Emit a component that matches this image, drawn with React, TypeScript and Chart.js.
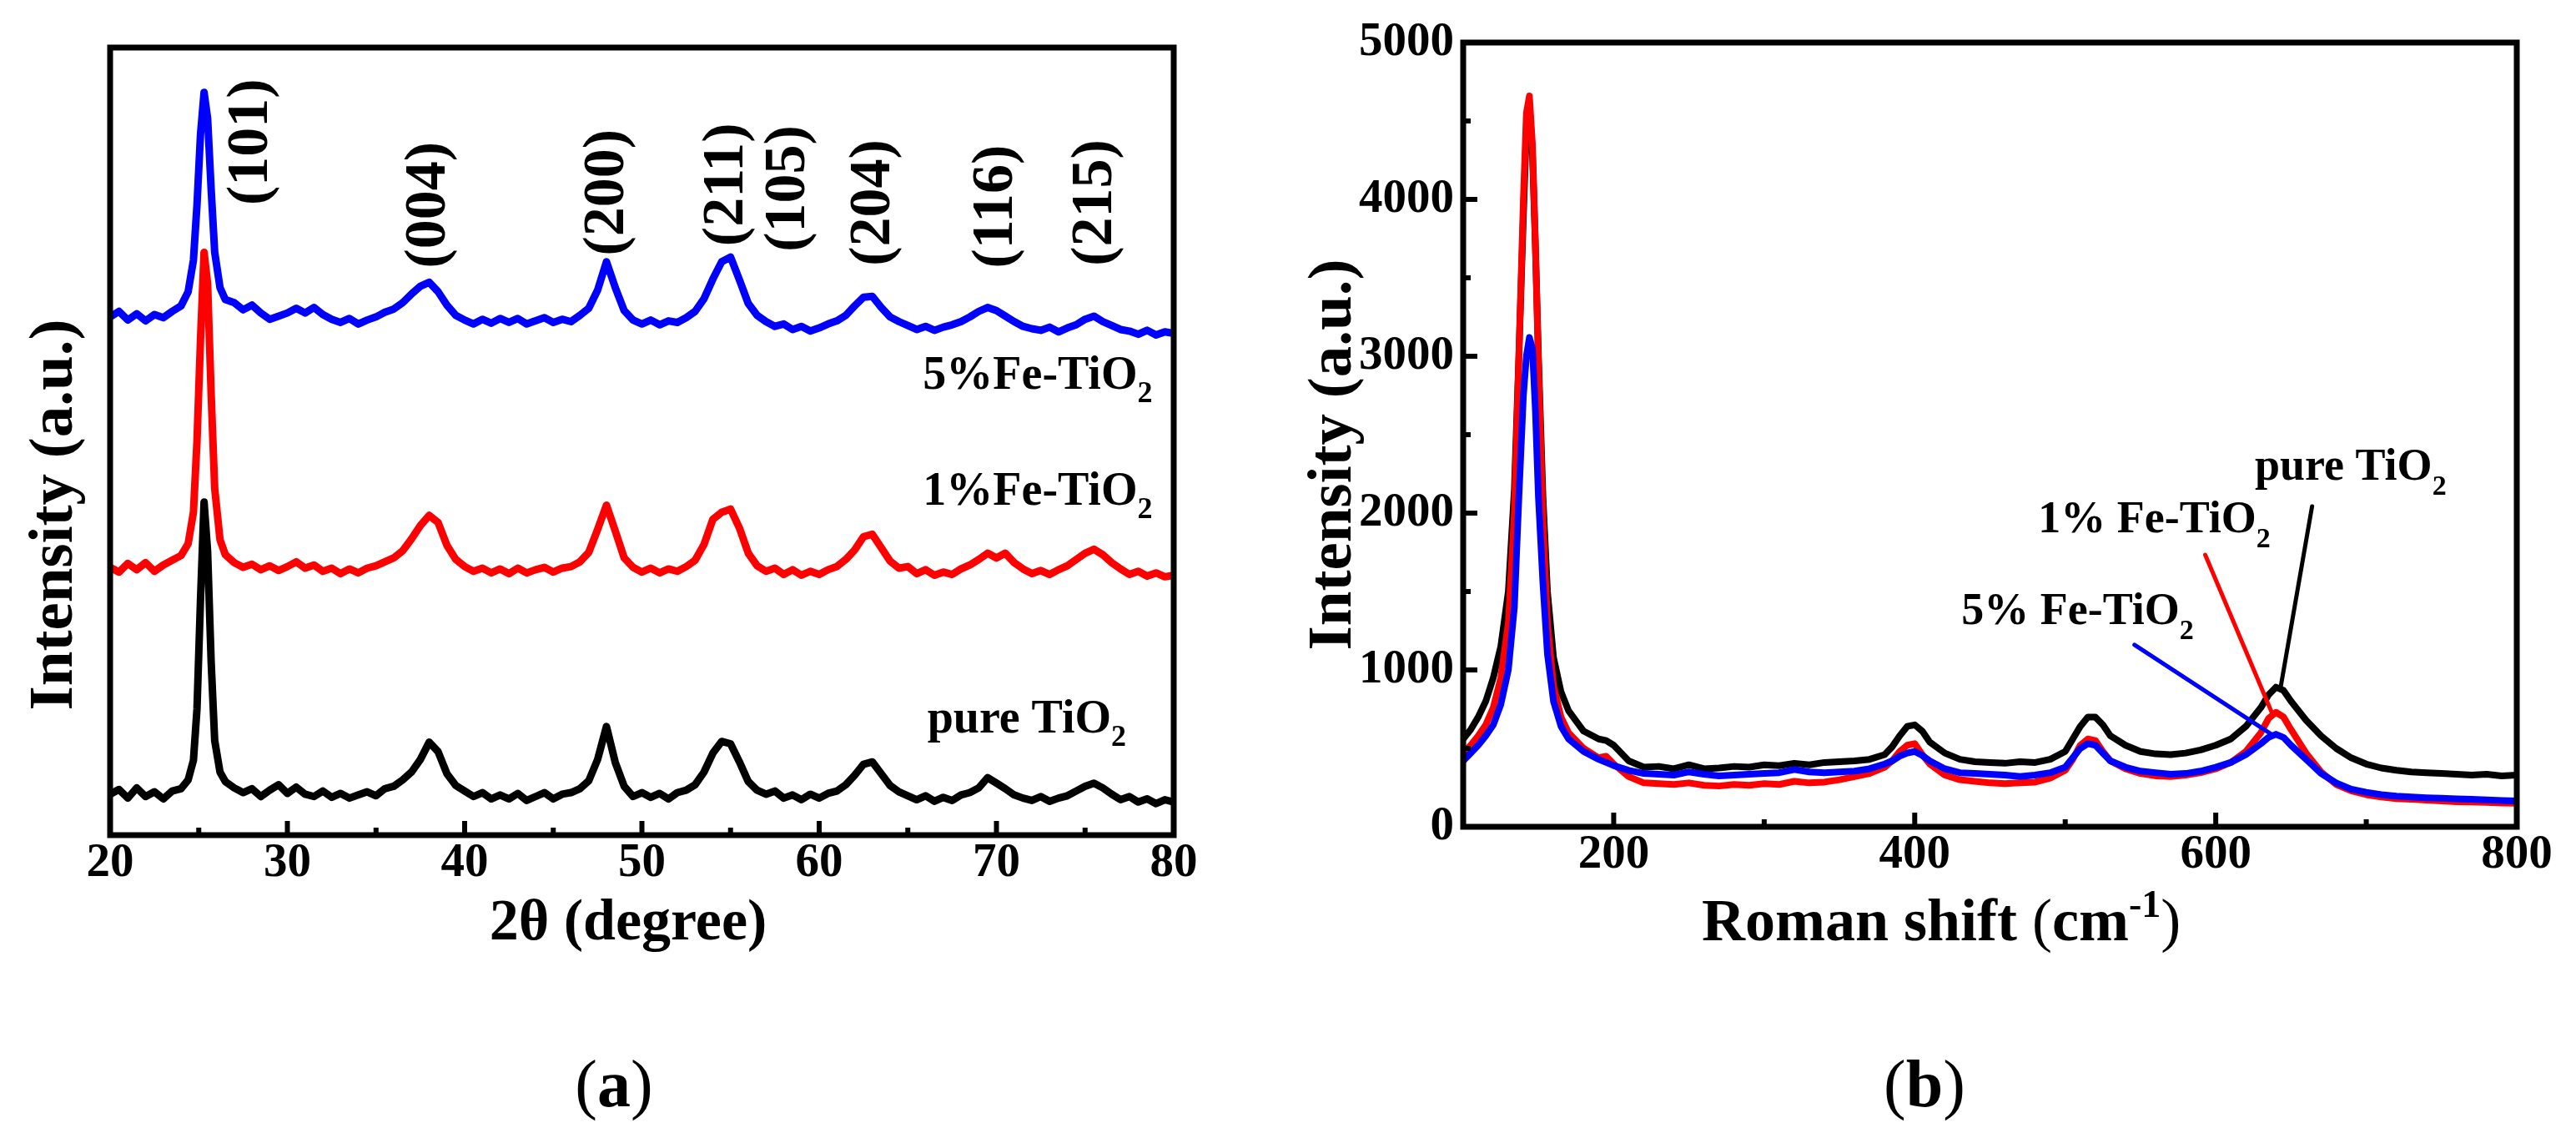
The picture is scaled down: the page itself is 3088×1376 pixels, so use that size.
import React, { useEffect, useRef } from "react";
import { Chart, registerables, ChartConfiguration, Plugin } from "chart.js";

Chart.register(...registerables);

const SERIF = '"Liberation Serif", "Times New Roman", serif';
const font = (size: number, bold = true) => `${bold ? "bold " : ""}${size}px ${SERIF}`;

// ---------- (a) XRD patterns ----------
const TWO_THETA = [
  20, 20.5, 21, 21.5, 22, 22.5, 23, 23.5, 24, 24.4,
  24.7, 24.9, 25.1, 25.3, 25.5, 25.7, 25.9, 26.2, 26.5, 27,
  27.5, 28, 28.5, 29, 29.5, 30, 30.5, 31, 31.5, 32,
  32.5, 33, 33.5, 34, 34.5, 35, 35.5, 36, 36.5, 37,
  37.5, 38, 38.5, 39, 39.5, 40, 40.5, 41, 41.5, 42,
  42.5, 43, 43.5, 44, 44.5, 45, 45.5, 46, 46.5, 47,
  47.5, 48, 48.5, 49, 49.5, 50, 50.5, 51, 51.5, 52,
  52.5, 53, 53.5, 54, 54.5, 55, 55.5, 56, 56.5, 57,
  57.5, 58, 58.5, 59, 59.5, 60, 60.5, 61, 61.5, 62,
  62.5, 63, 63.5, 64, 64.5, 65, 65.5, 66, 66.5, 67,
  67.5, 68, 68.5, 69, 69.5, 70, 70.5, 71, 71.5, 72,
  72.5, 73, 73.5, 74, 74.5, 75, 75.5, 76, 76.5, 77,
  77.5, 78, 78.5, 79, 79.5, 80,
];
const XRD_PURE = [
  5.2, 5.8, 4.7, 6.0, 4.9, 5.5, 4.6, 5.6, 5.9, 7.0,
  9.5, 16.0, 30.0, 42.3, 36.0, 22.0, 12.0, 8.0, 6.8, 6.0,
  5.4, 5.9, 4.9, 5.7, 6.4, 5.3, 6.1, 5.2, 4.9, 5.6,
  4.8, 5.3, 4.7, 5.1, 5.5, 5.0, 5.9, 6.2, 7.0, 8.0,
  9.6, 11.8, 10.6, 7.8, 6.3, 5.6, 4.9, 5.4, 4.6, 5.1,
  4.6, 5.3, 4.4, 4.9, 5.4, 4.6, 5.2, 5.4, 5.9, 6.9,
  9.6, 13.8, 9.2, 6.2, 4.9, 5.4, 4.8, 5.3, 4.6, 5.4,
  5.7, 6.4, 8.0, 10.4, 11.9, 11.6, 9.3, 6.8, 5.7, 5.2,
  5.6, 4.7, 5.1, 4.5, 5.2, 4.7, 5.3, 5.6, 6.4, 7.6,
  9.0, 9.3, 7.8, 6.3, 5.5, 5.0, 4.5, 5.0, 4.3, 4.8,
  4.4, 5.1, 5.4, 6.0, 7.3, 6.6, 5.9, 5.1, 4.7, 4.4,
  4.9, 4.3, 4.7, 5.0, 5.6, 6.2, 6.6, 6.0, 5.2, 4.5,
  4.9, 4.2, 4.6, 4.0, 4.5, 4.2,
];
const XRD_FE1 = [
  34.0, 33.4, 34.5, 33.7, 34.6, 33.5, 34.3, 34.9, 35.5, 37.0,
  41.0, 50.0, 63.0, 74.0, 70.0, 56.0, 44.0, 37.5, 35.6, 34.6,
  34.0, 34.4, 33.7, 34.2, 33.6, 34.1, 34.7, 33.9, 34.3, 33.5,
  33.9, 33.2, 33.8, 33.3, 33.9, 34.2, 34.7, 35.2, 36.1, 37.6,
  39.3, 40.6, 39.7, 36.8, 35.0, 34.1, 33.5, 33.9, 33.3, 33.8,
  33.2, 33.9, 33.3, 33.7, 34.0, 33.4, 33.9, 34.1, 34.7, 35.9,
  38.8, 41.9, 38.6, 35.2, 34.0, 33.4, 33.9, 33.3, 33.8, 33.5,
  34.1, 34.9, 36.9, 40.1, 41.0, 41.4, 39.0, 35.8, 34.2, 33.5,
  33.9, 33.1, 33.7, 33.0, 33.5, 33.1, 33.7, 34.1, 35.0, 36.2,
  37.9, 38.2, 36.5, 34.8, 33.9, 34.1, 33.2, 33.7, 33.0, 33.4,
  33.1, 33.8, 34.3, 35.0, 35.8, 35.2, 35.8, 34.6, 33.8, 33.2,
  33.6, 33.1, 33.7, 34.2, 35.0, 35.8, 36.3, 35.6, 34.6, 33.8,
  33.1, 33.5, 32.9, 33.3, 32.8, 33.0,
];
const XRD_FE5 = [
  65.8, 66.5, 65.4, 66.2, 65.3, 66.1, 65.7, 66.5, 67.2, 69.0,
  73.0, 80.0, 89.0, 94.3, 91.0, 82.0, 74.0, 69.5, 68.0, 67.6,
  66.7, 67.3, 66.3, 65.5, 65.9, 66.3, 66.9, 66.3, 67.0, 66.1,
  65.5, 65.1, 65.6, 64.9, 65.4, 65.8, 66.4, 66.8, 67.6, 68.7,
  69.7, 70.2, 69.0, 67.3, 66.0, 65.4, 64.9, 65.5, 65.0, 65.6,
  65.1, 65.6, 64.9, 65.3, 65.7, 65.1, 65.5, 65.2, 66.0, 66.9,
  69.2, 72.8, 69.5, 66.6, 65.4, 64.9, 65.4, 64.8, 65.3, 65.1,
  65.7, 66.5, 68.1, 70.6, 72.8, 73.4, 70.5, 67.5, 66.0, 65.2,
  64.6, 64.9, 64.2, 64.6, 64.0, 64.4, 64.9, 65.3, 66.0, 67.2,
  68.3, 68.4, 67.0, 65.8, 65.2, 64.7, 64.2, 64.6, 64.1, 64.5,
  64.8, 65.2, 65.8, 66.5, 67.0, 66.6, 65.9, 65.2, 64.6, 64.3,
  64.1, 64.5, 63.9, 64.4, 64.8, 65.5, 65.9, 65.2, 64.7, 64.2,
  64.0, 63.6, 64.1, 63.5, 63.9, 63.7,
];
const XRD_X_LABELS = [20, 30, 40, 50, 60, 70, 80];
const XRD_X_MINOR = [25, 35, 45, 55, 65, 75];
const MILLER = ["(101)", "(004)", "(200)", "(211)", "(105)", "(204)", "(116)", "(215)"];
const MILLER_AT = [28.0, 38.0, 48.1, 54.8, 58.3, 63.1, 70.0, 75.6];
const MILLER_LEVEL = [88.0, 80.0, 81.6, 82.6, 82.1, 80.3, 79.8, 80.3];
const XRD_NAMES = ["5%Fe-TiO", "1%Fe-TiO", "pure TiO"];
const XRD_NAME_AT = [65.85, 65.85, 66.1];
const XRD_NAME_LEVEL = [56.7, 41.9, 13.0];

// ---------- (b) Raman spectra ----------
const RAMAN_SHIFT = [
  100, 105, 110, 115, 120, 125, 130, 134, 137, 140,
  142, 144, 146, 148, 150, 153, 156, 160, 165, 170,
  180, 190, 195, 200, 210, 220, 230, 240, 250, 260,
  270, 280, 290, 300, 310, 320, 330, 340, 350, 360,
  370, 380, 385, 390, 395, 400, 405, 410, 420, 430,
  440, 450, 460, 470, 480, 490, 500, 505, 510, 515,
  520, 525, 530, 540, 550, 560, 570, 580, 590, 600,
  610, 620, 630, 635, 640, 645, 650, 660, 670, 680,
  690, 700, 710, 720, 730, 740, 750, 760, 770, 780,
  790, 800,
];
const RAMAN_PURE = [
  560, 620, 700, 800, 950, 1150, 1500, 2150, 3000, 3900,
  4450, 4600, 4300, 3700, 3000, 2100, 1500, 1080, 860, 740,
  610, 560, 550, 520, 420, 380, 385, 370, 395, 370,
  375, 385, 380, 395, 390, 405, 395, 410, 415, 420,
  430, 460, 510, 580, 640, 650, 610, 540, 470, 430,
  415, 410, 405, 415, 410, 430, 480, 560, 640, 700,
  700, 650, 580, 520, 480, 465, 460, 470, 490, 520,
  560, 640, 760, 840, 890, 870, 800, 680, 580, 500,
  440, 400, 375, 360, 350, 345, 340, 335, 330, 335,
  325, 330,
];
const RAMAN_FE1 = [
  470, 520, 580, 650, 760, 950, 1300, 2000, 3000, 4000,
  4550, 4660, 4350, 3700, 2950, 1950, 1300, 900, 700, 600,
  500, 440, 450, 400, 320, 280, 275, 270, 280, 265,
  260, 270, 265, 275, 270, 290, 280, 285, 300, 320,
  340, 380, 420, 480, 520, 530, 460, 400, 330, 300,
  290, 280, 275, 280, 285, 310, 360, 430, 520, 560,
  550, 480, 420, 370, 340, 325, 320, 330, 345, 370,
  410, 480, 600, 690, 730, 700, 620, 470, 350, 270,
  230, 205, 190, 180, 175, 170, 165, 160, 158, 155,
  152, 150,
];
const RAMAN_FE5 = [
  420, 470, 520, 580, 650, 780, 1000, 1400, 2100, 2750,
  3000, 3120, 3050, 2650, 2100, 1550, 1100, 800, 640, 560,
  480, 430, 410, 390, 360, 340, 335, 330, 350, 335,
  325, 330, 335, 340, 345, 365, 350, 345, 350, 355,
  370, 400, 420, 450, 470, 480, 455, 420, 370, 345,
  340, 335, 330, 320, 330, 345, 380, 440, 500, 530,
  520, 470, 420, 380, 355, 345, 335, 340, 355, 380,
  410, 460, 530, 570, 590, 570, 520, 430, 340, 280,
  240, 220, 205, 195, 190, 185, 182, 178, 175, 172,
  168, 165,
];
const RAMAN_X_LABELS = [200, 400, 600, 800];
const RAMAN_X_MINOR = [300, 500, 700];
const RAMAN_Y_LABELS = [0, 1000, 2000, 3000, 4000, 5000];
const RAMAN_Y_MINOR = [500, 1500, 2500, 3500, 4500];
const RAMAN_NAMES = ["pure TiO", "1% Fe-TiO", "5% Fe-TiO"];
const RAMAN_NAME_AT = [626, 482, 431];
const RAMAN_NAME_LEVEL = [2213, 1878, 1293];
const RAMAN_POINTER_FROM = [[664, 2043], [593, 1734], [546, 1160]];
const RAMAN_POINTER_TO = [[643, 883], [637, 734], [637, 590]];

const COLORS = ["#000000", "#ff0000", "#0000ff"];

const CANVAS_W = 1544;
const CANVAS_H = 1376;
const BOX_A = { left: 132, top: 57, right: 1407, bottom: 1001 };
const BOX_B = { left: 210, top: 51, right: 1473, bottom: 991 };

type Box = typeof BOX_A;
type Seg = { text: string; size: number; bold?: boolean; dy?: number };

// draws a run of text pieces (sub/superscripts, mixed weights) on one baseline
function drawSegs(ctx: CanvasRenderingContext2D, segs: Seg[], x: number, y: number, align: "left" | "center") {
  ctx.textAlign = "left";
  ctx.textBaseline = "alphabetic";
  let total = 0;
  for (const s of segs) {
    ctx.font = font(s.size, s.bold !== false);
    total += ctx.measureText(s.text).width;
  }
  let cx = align === "center" ? x - total / 2 : x;
  for (const s of segs) {
    ctx.font = font(s.size, s.bold !== false);
    ctx.fillText(s.text, cx, y + (s.dy ?? 0));
    cx += ctx.measureText(s.text).width;
  }
}

function drawRotated(ctx: CanvasRenderingContext2D, segs: Seg[], x: number, y: number) {
  ctx.save();
  ctx.translate(x, y);
  ctx.rotate(-Math.PI / 2);
  drawSegs(ctx, segs, 0, 0, "center");
  ctx.restore();
}

function drawFrame(chart: Chart) {
  const { ctx, chartArea: a } = chart;
  ctx.save();
  ctx.strokeStyle = "#000";
  ctx.lineWidth = 7;
  ctx.strokeRect(a.left, a.top, a.right - a.left, a.bottom - a.top);
  ctx.restore();
}

// inward tick marks, placed through the chart's own scales
function drawTicks(chart: Chart, axis: "x" | "y", values: number[], len: number) {
  const { ctx, chartArea: a } = chart;
  const scale = chart.scales[axis];
  ctx.save();
  ctx.strokeStyle = "#000";
  ctx.lineWidth = 6;
  ctx.beginPath();
  values.forEach((v) => {
    const p = scale.getPixelForValue(v);
    if (axis === "x") {
      ctx.moveTo(p, a.bottom);
      ctx.lineTo(p, a.bottom - len);
    } else {
      ctx.moveTo(a.left, p);
      ctx.lineTo(a.left + len, p);
    }
  });
  ctx.stroke();
  ctx.restore();
}

function baseOptions(box: Box, xr: [number, number], yr: [number, number], xLabels: number[], yLabels: number[] | null) {
  const tickFont = { family: SERIF, size: 57, weight: "bold" as const };
  return {
    responsive: false,
    animation: false as const,
    devicePixelRatio: 1,
    layout: { padding: { left: 0, top: box.top, right: CANVAS_W - box.right, bottom: 0 } },
    elements: {
      point: { radius: 0 },
      line: { tension: 0, borderJoinStyle: "round" as const, borderCapStyle: "round" as const },
    },
    plugins: { legend: { display: false }, tooltip: { enabled: false } },
    scales: {
      x: {
        type: "linear" as const,
        min: xr[0],
        max: xr[1],
        grid: { display: false, drawTicks: false },
        border: { display: false },
        ticks: { font: tickFont, color: "#000", padding: 0, callback: (v: any) => String(v) },
        afterBuildTicks: (s: any) => {
          s.ticks = xLabels.map((value) => ({ value }));
        },
        afterFit: (s: any) => {
          s.height = CANVAS_H - box.bottom;
        },
      },
      y: {
        type: "linear" as const,
        min: yr[0],
        max: yr[1],
        grid: { display: false, drawTicks: false },
        border: { display: false },
        ticks: {
          display: yLabels !== null,
          font: tickFont,
          color: "#000",
          padding: 11,
          callback: (v: any) => String(v),
        },
        afterBuildTicks: (s: any) => {
          if (yLabels) s.ticks = yLabels.map((value) => ({ value }));
        },
        afterFit: (s: any) => {
          s.width = box.left;
        },
      },
    },
  };
}

const xrdOverlay: Plugin<"line"> = {
  id: "xrdOverlay",
  afterDatasetsDraw(chart) {
    const { ctx } = chart;
    const xs = chart.scales.x;
    const ys = chart.scales.y;
    drawFrame(chart);
    drawTicks(chart, "x", XRD_X_LABELS, 17);
    drawTicks(chart, "x", XRD_X_MINOR, 9);
    ctx.save();
    ctx.fillStyle = "#000";
    MILLER.forEach((t, i) => {
      ctx.save();
      ctx.translate(xs.getPixelForValue(MILLER_AT[i]), ys.getPixelForValue(MILLER_LEVEL[i]));
      ctx.rotate(-Math.PI / 2);
      ctx.font = font(70);
      ctx.textAlign = "center";
      ctx.textBaseline = "middle";
      ctx.fillText(t, 0, 0);
      ctx.restore();
    });
    XRD_NAMES.forEach((t, i) => {
      drawSegs(
        ctx,
        [{ text: t, size: 56 }, { text: "2", size: 36, dy: 16 }],
        xs.getPixelForValue(XRD_NAME_AT[i]),
        ys.getPixelForValue(XRD_NAME_LEVEL[i]),
        "left"
      );
    });
    drawRotated(ctx, [{ text: "Intensity (a.u.)", size: 75 }], 86, 617);
    drawSegs(ctx, [{ text: "2θ (degree)", size: 70 }], 753, 1126, "center");
    drawSegs(
      ctx,
      [{ text: "(", size: 80, bold: false }, { text: "a", size: 80 }, { text: ")", size: 80, bold: false }],
      736, 1326, "center"
    );
    ctx.restore();
  },
};

const ramanOverlay: Plugin<"line"> = {
  id: "ramanOverlay",
  afterDatasetsDraw(chart) {
    const { ctx } = chart;
    const xs = chart.scales.x;
    const ys = chart.scales.y;
    drawFrame(chart);
    drawTicks(chart, "x", RAMAN_X_LABELS, 17);
    drawTicks(chart, "x", RAMAN_X_MINOR, 9);
    drawTicks(chart, "y", RAMAN_Y_LABELS, 17);
    drawTicks(chart, "y", RAMAN_Y_MINOR, 9);
    ctx.save();
    ctx.lineWidth = 5;
    ctx.lineCap = "round";
    RAMAN_POINTER_FROM.forEach((from, i) => {
      const to = RAMAN_POINTER_TO[i];
      ctx.strokeStyle = COLORS[i];
      ctx.beginPath();
      ctx.moveTo(xs.getPixelForValue(from[0]), ys.getPixelForValue(from[1]));
      ctx.lineTo(xs.getPixelForValue(to[0]), ys.getPixelForValue(to[1]));
      ctx.stroke();
    });
    ctx.fillStyle = "#000";
    RAMAN_NAMES.forEach((t, i) => {
      drawSegs(
        ctx,
        [{ text: t, size: 54 }, { text: "2", size: 34, dy: 18 }],
        xs.getPixelForValue(RAMAN_NAME_AT[i]),
        ys.getPixelForValue(RAMAN_NAME_LEVEL[i]),
        "left"
      );
    });
    drawRotated(ctx, [{ text: "Intensity (a.u.)", size: 75 }], 75, 545);
    drawSegs(
      ctx,
      [
        { text: "Roman shift ", size: 72 },
        { text: "(", size: 72, bold: false },
        { text: "cm", size: 72 },
        { text: "-1", size: 46, dy: -28 },
        { text: ")", size: 72, bold: false },
      ],
      496, 1127, "left"
    );
    drawSegs(
      ctx,
      [{ text: "(", size: 80, bold: false }, { text: "b", size: 80 }, { text: ")", size: 80, bold: false }],
      763, 1326, "center"
    );
    ctx.restore();
  },
};

function xrdConfig(): ChartConfiguration<"line"> {
  const pts = (ys: number[]) => TWO_THETA.map((x, i) => ({ x, y: ys[i] }));
  return {
    type: "line",
    data: {
      datasets: [
        { data: pts(XRD_PURE), borderColor: COLORS[0], borderWidth: 9 },
        { data: pts(XRD_FE1), borderColor: COLORS[1], borderWidth: 9 },
        { data: pts(XRD_FE5), borderColor: COLORS[2], borderWidth: 9 },
      ],
    },
    options: baseOptions(BOX_A, [20, 80], [0, 100], XRD_X_LABELS, null) as any,
    plugins: [xrdOverlay],
  };
}

function ramanConfig(): ChartConfiguration<"line"> {
  const pts = (ys: number[]) => RAMAN_SHIFT.map((x, i) => ({ x, y: ys[i] }));
  return {
    type: "line",
    data: {
      // first dataset is drawn on top
      datasets: [
        { data: pts(RAMAN_FE5), borderColor: COLORS[2], borderWidth: 8 },
        { data: pts(RAMAN_FE1), borderColor: COLORS[1], borderWidth: 8 },
        { data: pts(RAMAN_PURE), borderColor: COLORS[0], borderWidth: 8 },
      ],
    },
    options: baseOptions(BOX_B, [100, 800], [0, 5000], RAMAN_X_LABELS, RAMAN_Y_LABELS) as any,
    plugins: [ramanOverlay],
  };
}

function Panel({ makeConfig, left }: { makeConfig: () => ChartConfiguration<"line">; left: number }) {
  const canvasRef = useRef<HTMLCanvasElement | null>(null);

  useEffect(() => {
    if (!canvasRef.current) return;
    const chart = new Chart(canvasRef.current, makeConfig());
    return () => {
      chart.destroy();
    };
  }, [makeConfig]);

  return (
    <canvas
      ref={canvasRef}
      width={CANVAS_W}
      height={CANVAS_H}
      style={{ position: "absolute", left, top: 0, width: CANVAS_W, height: CANVAS_H }}
    />
  );
}

export default function App() {
  return (
    <div style={{ position: "absolute", left: 0, top: 0, width: CANVAS_W * 2, height: CANVAS_H, background: "#fff" }}>
      <Panel makeConfig={xrdConfig} left={0} />
      <Panel makeConfig={ramanConfig} left={CANVAS_W} />
    </div>
  );
}
